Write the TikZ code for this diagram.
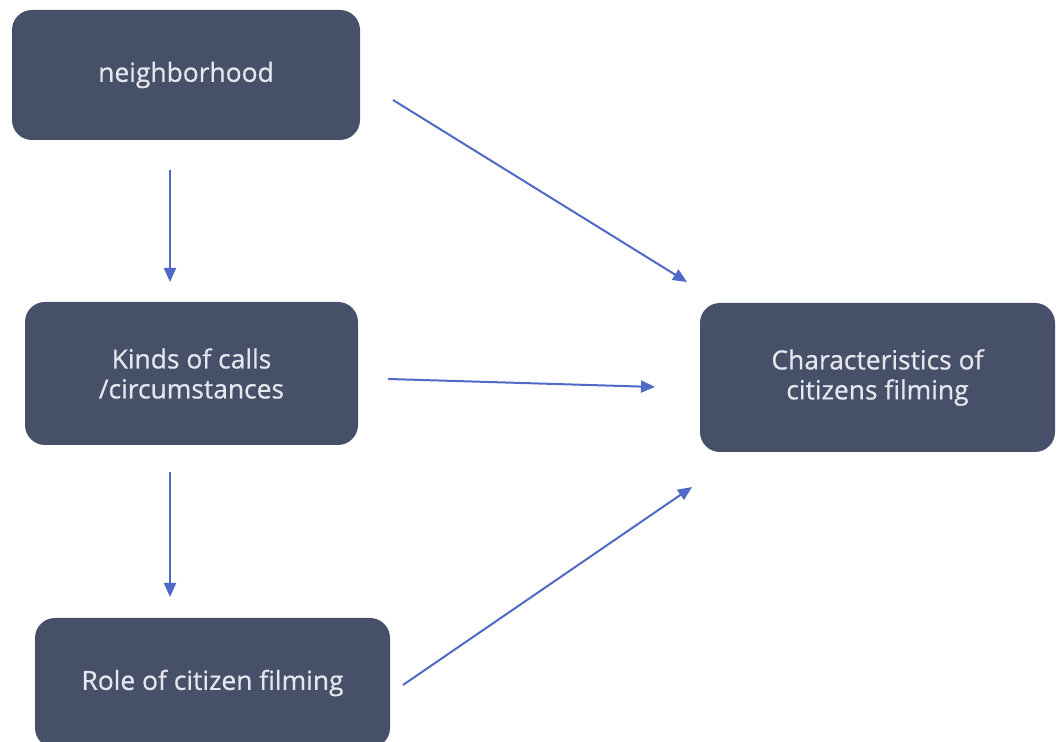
\documentclass[tikz,border=0pt]{standalone}
\usepackage{fontspec}
\setmainfont{Open Sans}
\newfontfamily\boxfont{Open Sans}[FakeBold = 0.6]
\usetikzlibrary{arrows.meta}

\definecolor{boxfill}{HTML}{465069}
\definecolor{boxtext}{HTML}{E6E7EE}
\definecolor{arrowblue}{HTML}{5169C6}

\begin{document}
\begin{tikzpicture}[
  x = 0.5pt, y = 0.5pt,
  box/.style = {
    shape = rectangle,
    rounded corners = 10pt,
    fill = boxfill,
    text = boxtext,
    align = center,
    font = \boxfont\fontsize{13.2}{15}\selectfont,
    inner sep = 0pt,
    outer sep = 0pt,
  }
]
  \useasboundingbox (0, 0) rectangle (1057, 742);

  \node[box, minimum width = 174pt, minimum height = 65pt] (hood) at (186, 667) {neighborhood};
  \node[box, minimum width = 166.5pt, minimum height = 71.5pt] (kinds) at (191.5, 368.5) {Kinds of calls\\/circumstances};
  \node[box, minimum width = 177.5pt, minimum height = 65pt] (role) at (212.5, 59) {Role of citizen filming};
  \node[box, minimum width = 177.5pt, minimum height = 74.5pt] (traits) at (877.5, 364.5) {Characteristics of\\citizens filming};

  \begin{scope}[
    every path/.style = {
      -{Triangle[length = 7pt, width = 6pt]},
      line width = 1pt,
      color = arrowblue,
    }
  ]
    \draw ([shift = {(33, -25)}]hood.east) -- ([shift = {(-13, 21)}]traits.north west);
    \draw ([shift = {(-16, -30)}]hood.south) -- ([shift = {(-21.5, 20)}]kinds.north);

    \draw ([shift = {(30, -5.5)}]kinds.east) -- ([shift = {(-45, -9.5)}]traits.west);
    \draw ([shift = {(-21.5, -27)}]kinds.south) -- ([shift = {(-42.5, 21)}]role.north);

    \draw ([shift = {(13, -2)}]role.east) -- ([shift = {(-8, -35)}]traits.south west);
  \end{scope}
\end{tikzpicture}
\end{document}
